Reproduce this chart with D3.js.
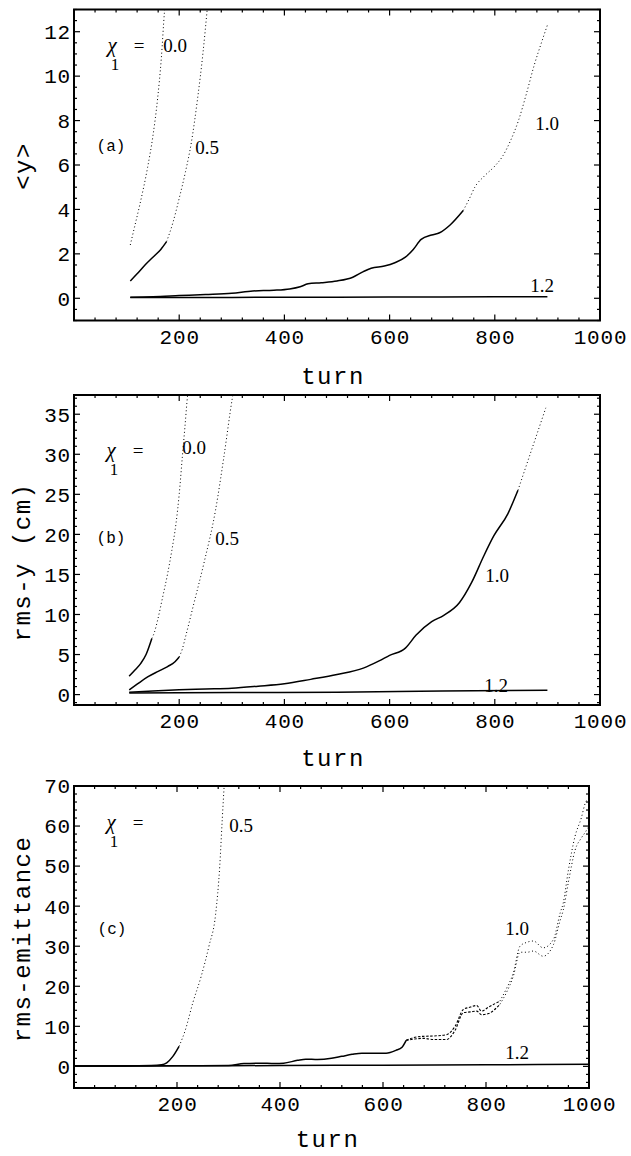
<!DOCTYPE html>
<html>
<head>
<meta charset="utf-8">
<script src="https://cdn.jsdelivr.net/npm/d3@7"></script>
<style>
  body { margin: 0; background: #fff; }
  svg { display: block; }
</style>
</head>
<body>
<div id="chart"></div>
<script>
// ---- data ----
var xTicks = [200, 400, 600, 800, 1000];
var yTicksA = [0, 2, 4, 6, 8, 10, 12];
var yTicksB = [0, 5, 10, 15, 20, 25, 30, 35];
var yTicksC = [0, 10, 20, 30, 40, 50, 60, 70];
var chiNames = ["0.0", "0.5", "1.0", "1.2"];

// (a) <y>
var turnA00 = [107, 115, 125, 140, 150, 159, 166, 172, 176];
var valA00  = [2.4, 3.2, 4.2, 5.9, 7.3, 9.0, 10.8, 12.9, 13.9];
var turnA05 = [107, 120, 135, 150, 165, 176, 188, 200, 212, 223, 235, 245, 254];
var valA05  = [0.78, 1.1, 1.5, 1.85, 2.2, 2.55, 3.4, 4.5, 5.7, 7.0, 9.0, 11.0, 13.2];
var turnA10 = [107, 150, 200, 250, 300, 340, 380, 410, 430, 445, 470, 500, 530, 550, 565, 590, 610, 630, 645, 660, 680, 695, 715, 740,
               752, 762, 780, 800, 815, 830, 845, 860, 875, 890, 900];
var valA10  = [0.05, 0.07, 0.12, 0.17, 0.23, 0.33, 0.36, 0.42, 0.52, 0.65, 0.7, 0.78, 0.95, 1.2, 1.35, 1.45, 1.6, 1.85, 2.2, 2.65, 2.85, 2.95, 3.3, 3.95,
               4.5, 5.0, 5.5, 5.95, 6.4, 7.1, 8.0, 9.2, 10.5, 11.6, 12.3];
var turnA12 = [107, 300, 500, 700, 900];
var valA12  = [0.03, 0.04, 0.05, 0.06, 0.07];

// (b) rms-y (cm)
var turnB00 = [105, 115, 127, 137, 148, 153, 159, 168, 178, 186, 194, 200, 206, 211, 216, 219];
var valB00  = [2.3, 3.0, 3.9, 5.0, 7.0, 7.8, 9.3, 12.0, 15.1, 18.0, 21.4, 25.0, 29.7, 33.5, 37.4, 39.0];
var turnB05 = [105, 120, 140, 160, 178, 192, 200, 206, 212, 228, 247, 269, 285, 301, 305];
var valB05  = [0.6, 1.3, 2.2, 2.9, 3.5, 4.1, 4.7, 5.7, 7.2, 11.4, 16.4, 23.0, 29.7, 37.0, 38.5];
var turnB10 = [105, 150, 200, 250, 300, 350, 400, 450, 500, 550, 580, 600, 630, 650, 680, 703, 733, 756, 779, 798, 825, 844,
               863, 880, 897];
var valB10  = [0.3, 0.45, 0.6, 0.7, 0.8, 1.05, 1.35, 1.9, 2.5, 3.3, 4.2, 4.9, 5.8, 7.4, 9.1, 9.9, 11.5, 14.0, 17.3, 19.8, 22.6, 25.5,
               29.2, 32.5, 35.8];
var turnB12 = [105, 300, 500, 700, 900];
var valB12  = [0.2, 0.25, 0.3, 0.45, 0.55];

// (c) rms-emittance
var turnC05 = [0, 100, 150, 170, 180, 192, 204, 216, 231, 247, 262, 275, 283, 288, 292];
var valC05  = [0.1, 0.1, 0.2, 0.4, 0.9, 2.5, 5.0, 9.0, 16.0, 22.5, 30.0, 38.0, 50.0, 62.0, 71.0];
var turnC10 = [0, 100, 200, 300, 330, 360, 390, 407, 434, 450, 473, 500, 520, 540, 559, 580, 606, 625, 637, 645];
var valC10  = [0.1, 0.1, 0.15, 0.2, 0.7, 0.8, 0.7, 0.8, 1.5, 1.8, 1.7, 2.0, 2.5, 3.0, 3.3, 3.3, 3.3, 4.0, 4.8, 6.5];
var turnC10band = [645, 660, 678, 700, 723, 740, 756, 770, 782, 791, 805, 827, 840, 853, 866, 880, 892, 911, 931, 944, 950, 960, 973, 985, 993, 1000];
var valC10hi    = [6.5, 7.2, 7.5, 7.6, 7.9, 10.0, 14.2, 14.8, 15.2, 13.8, 14.8, 16.3, 19.5, 23.3, 30.0, 31.0, 31.3, 29.6, 31.7, 38.3, 40.8, 49.0, 57.5, 62.0, 65.8, 67.0];
var valC10lo    = [6.5, 6.8, 7.0, 6.7, 6.7, 9.0, 13.4, 13.6, 13.8, 12.9, 13.2, 15.5, 18.5, 22.5, 28.5, 28.5, 28.8, 27.5, 30.4, 36.5, 39.0, 46.0, 54.0, 57.0, 58.5, 60.0];
var turnC12 = [0, 200, 400, 600, 800, 1000];
var valC12  = [0.1, 0.15, 0.2, 0.3, 0.4, 0.5];

// ---- layout ----
var W = 631, H = 1156;
var mono = "'Liberation Mono', 'Courier New', monospace";
var serif = "'Liberation Serif', 'Times New Roman', serif";

var styles = {
  solid: { w: 1.5, dash: null },
  dash:  { w: 1.1, dash: "2.5 1.6" },
  dot:   { w: 1.0, dash: "1 2.6" }
};

var panels = [
  {
    tag: "(a)", title: "<y>", left: 74, right: 600, top: 9.5, bottom: 320.5,
    xDomain: [0, 1000], yDomain: [-1, 13], yTicks: yTicksA, yMinor: 0.5, xMinor: 40,
    titleX: 23, titleY: 166, turnY: 384,
    series: [
      { t: turnA00, v: valA00, breaks: [[107, "dot"]] },
      { t: turnA05, v: valA05, breaks: [[107, "solid"], [176, "dot"]] },
      { t: turnA10, v: valA10, breaks: [[107, "solid"], [740, "dot"]] },
      { t: turnA12, v: valA12, breaks: [[107, "solid"]] }
    ],
    labels: [
      { text: chiNames[0], x: 175, y: 45 }, { text: chiNames[1], x: 207, y: 147 },
      { text: chiNames[2], x: 547, y: 123 }, { text: chiNames[3], x: 542, y: 285 }
    ],
    chi: { x: 112, y: 45 }, tagPos: { x: 111, y: 145 }
  },
  {
    tag: "(b)", title: "rms-y (cm)", left: 74, right: 600, top: 395, bottom: 705,
    xDomain: [0, 1000], yDomain: [-1.3, 37.4], yTicks: yTicksB, yMinor: 1, xMinor: 40,
    titleX: 22, titleY: 562, turnY: 766,
    series: [
      { t: turnB00, v: valB00, breaks: [[105, "solid"], [148, "dot"]] },
      { t: turnB05, v: valB05, breaks: [[105, "solid"], [200, "dot"]] },
      { t: turnB10, v: valB10, breaks: [[105, "solid"], [844, "dot"]] },
      { t: turnB12, v: valB12, breaks: [[105, "solid"]] }
    ],
    labels: [
      { text: chiNames[0], x: 194, y: 447 }, { text: chiNames[1], x: 227, y: 538 },
      { text: chiNames[2], x: 497, y: 575 }, { text: chiNames[3], x: 496, y: 685 }
    ],
    chi: { x: 111, y: 450 }, tagPos: { x: 111, y: 537 }
  },
  {
    tag: "(c)", title: "rms-emittance", left: 74, right: 589, top: 786, bottom: 1088,
    xDomain: [0, 1000], yDomain: [-5.4, 70], yTicks: yTicksC, yMinor: 2, xMinor: 40,
    titleX: 22, titleY: 939, turnY: 1147,
    series: [
      { t: turnC05, v: valC05, breaks: [[0, "solid"], [204, "dot"]] },
      { t: turnC10, v: valC10, breaks: [[0, "solid"]] },
      { t: turnC10band, v: valC10hi, breaks: [[645, "dash"], [827, "dot"]] },
      { t: turnC10band, v: valC10lo, breaks: [[645, "dash"], [827, "dot"]] },
      { t: turnC12, v: valC12, breaks: [[0, "solid"]] }
    ],
    labels: [
      { text: chiNames[1], x: 241, y: 825 },
      { text: chiNames[2], x: 517, y: 928 }, { text: chiNames[3], x: 517, y: 1052 }
    ],
    chi: { x: 111, y: 822 }, tagPos: { x: 112, y: 928 }
  }
];

var svg = d3.select("#chart").append("svg")
  .attr("width", W).attr("height", H)
  .attr("viewBox", "0 0 " + W + " " + H);

function minorTicks(domain, step) {
  var out = [];
  var start = Math.ceil(domain[0] / step) * step;
  for (var v = start; v <= domain[1] + 1e-9; v += step) out.push(+v.toFixed(6));
  return out;
}

panels.forEach(function (p, pi) {
  var x = d3.scaleLinear().domain(p.xDomain).range([p.left, p.right]);
  var y = d3.scaleLinear().domain(p.yDomain).range([p.bottom, p.top]);
  var g = svg.append("g");

  var clipId = "clip" + pi;
  svg.append("clipPath").attr("id", clipId).append("rect")
    .attr("x", p.left).attr("y", p.top)
    .attr("width", p.right - p.left).attr("height", p.bottom - p.top);

  // curves
  var line = d3.line()
    .x(function (d) { return x(d[0]); })
    .y(function (d) { return y(d[1]); })
    .curve(d3.curveMonotoneX);
  var cg = g.append("g").attr("clip-path", "url(#" + clipId + ")");
  p.series.forEach(function (s) {
    var pts = s.t.map(function (t, i) { return [t, s.v[i]]; });
    s.breaks.forEach(function (b, k) {
      var lo = b[0];
      var hi = k + 1 < s.breaks.length ? s.breaks[k + 1][0] : Infinity;
      var seg = pts.filter(function (d) { return d[0] >= lo && d[0] <= hi; });
      var st = styles[b[1]];
      cg.append("path").datum(seg)
        .attr("d", line)
        .attr("fill", "none")
        .attr("stroke", "#000")
        .attr("stroke-width", st.w)
        .attr("stroke-dasharray", st.dash);
    });
  });

  // frame ticks (all four sides, inward)
  var xMinor = minorTicks(p.xDomain, p.xMinor).filter(function (v) { return xTicks.indexOf(v) < 0; });
  var yMinor = minorTicks(p.yDomain, p.yMinor).filter(function (v) { return p.yTicks.indexOf(v) < 0; });
  var tk = g.append("g").attr("stroke", "#000").attr("stroke-width", 1.2);
  function xt(vals, len) {
    vals.forEach(function (v) {
      tk.append("line").attr("x1", x(v)).attr("x2", x(v)).attr("y1", p.bottom).attr("y2", p.bottom - len);
      tk.append("line").attr("x1", x(v)).attr("x2", x(v)).attr("y1", p.top).attr("y2", p.top + len);
    });
  }
  function yt(vals, len) {
    vals.forEach(function (v) {
      tk.append("line").attr("y1", y(v)).attr("y2", y(v)).attr("x1", p.left).attr("x2", p.left + len);
      tk.append("line").attr("y1", y(v)).attr("y2", y(v)).attr("x1", p.right).attr("x2", p.right - len);
    });
  }
  xt(xTicks, 6); xt(xMinor, 3);
  yt(p.yTicks, 6); yt(yMinor, 3);

  g.append("rect")
    .attr("x", p.left).attr("y", p.top)
    .attr("width", p.right - p.left).attr("height", p.bottom - p.top)
    .attr("fill", "none").attr("stroke", "#000").attr("stroke-width", 2);

  // tick labels
  g.append("g").selectAll("text").data(xTicks).join("text")
    .attr("x", function (d) { return x(d) + 0.5; })
    .attr("y", p.bottom + 23)
    .attr("text-anchor", "middle")
    .attr("font-family", mono).attr("font-size", 21).attr("letter-spacing", 0.8)
    .text(function (d) { return d; });
  g.append("g").selectAll("text").data(p.yTicks).join("text")
    .attr("x", p.left - 3)
    .attr("y", function (d) { return y(d); })
    .attr("dy", "0.35em")
    .attr("text-anchor", "end")
    .attr("font-family", mono).attr("font-size", 21).attr("letter-spacing", 0.8)
    .text(function (d) { return d; });

  // axis titles
  g.append("text")
    .attr("x", (p.left + p.right) / 2 - 4).attr("y", p.turnY)
    .attr("text-anchor", "middle")
    .attr("font-family", mono).attr("font-size", 24).attr("letter-spacing", 1.5)
    .text("turn");
  g.append("text")
    .attr("transform", "translate(" + p.titleX + "," + p.titleY + ") rotate(-90)")
    .attr("text-anchor", "middle").attr("dy", "0.35em")
    .attr("font-family", mono).attr("font-size", 24).attr("letter-spacing", 1.5)
    .text(p.title);

  // annotations
  g.append("text")
    .attr("x", p.tagPos.x).attr("y", p.tagPos.y).attr("dy", "0.35em")
    .attr("text-anchor", "middle")
    .attr("font-family", mono).attr("font-size", 16)
    .text(p.tag);
  g.append("text")
    .attr("x", p.chi.x).attr("y", p.chi.y).attr("dy", "0.35em")
    .attr("text-anchor", "middle")
    .attr("font-family", serif).attr("font-style", "italic").attr("font-size", 21)
    .text("\u03c7");
  g.append("text")
    .attr("x", p.chi.x + 3).attr("y", p.chi.y + 19).attr("dy", "0.35em")
    .attr("text-anchor", "middle")
    .attr("font-family", serif).attr("font-size", 17)
    .text("1");
  g.append("text")
    .attr("x", p.chi.x + 27).attr("y", p.chi.y).attr("dy", "0.35em")
    .attr("text-anchor", "middle")
    .attr("font-family", serif).attr("font-size", 19)
    .text("=");
  g.append("g").selectAll("text").data(p.labels).join("text")
    .attr("x", function (d) { return d.x; })
    .attr("y", function (d) { return d.y; })
    .attr("dy", "0.35em")
    .attr("text-anchor", "middle")
    .attr("font-family", serif).attr("font-size", 19)
    .text(function (d) { return d.text; });
});
</script>
</body>
</html>
